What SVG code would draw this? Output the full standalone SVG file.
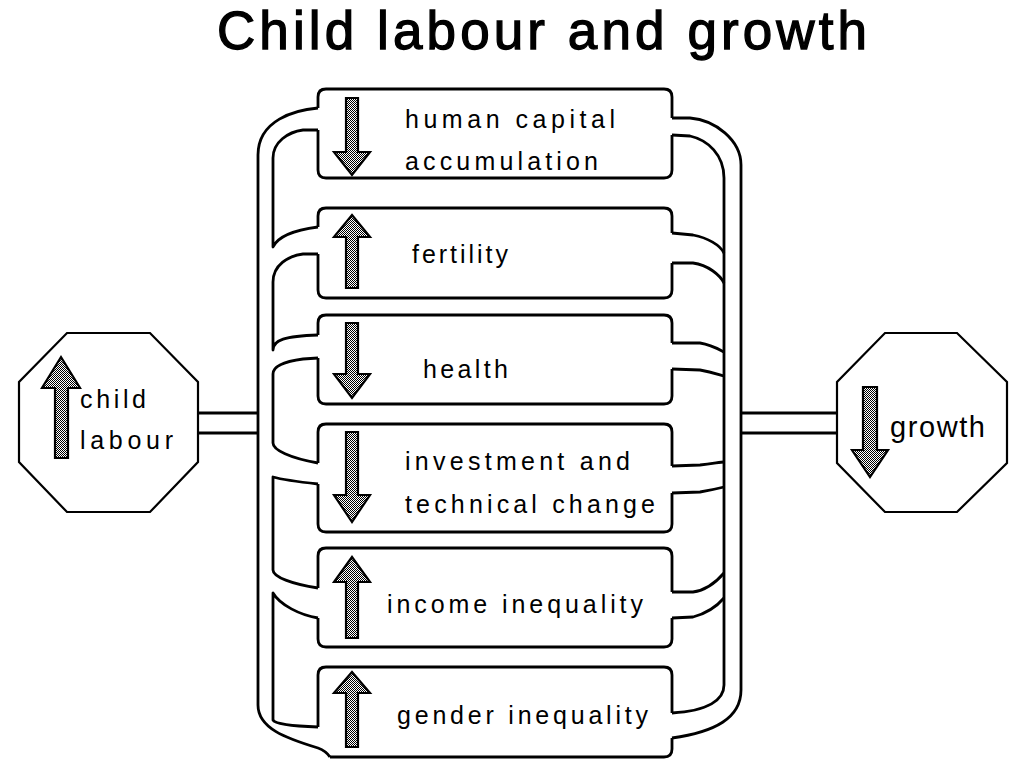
<svg xmlns="http://www.w3.org/2000/svg" width="1024" height="768" viewBox="0 0 1024 768">
<defs>
<pattern id="dither" width="2" height="2" patternUnits="userSpaceOnUse">
<rect width="2" height="2" fill="#fff"/>
<rect width="1" height="1" fill="#000"/>
<rect x="1" y="1" width="1" height="1" fill="#000"/>
</pattern>
<style>
.ln{fill:none;stroke:#000;stroke-width:2.8;stroke-linejoin:round}
.oct{fill:#fff;stroke:#000;stroke-width:2.2}
.arr{fill:url(#dither);stroke:#000;stroke-width:2.2;stroke-linejoin:miter}
.t{font-family:"Liberation Sans",Arial,sans-serif;font-size:25px;fill:#000}
.title{font-family:"Liberation Sans",Arial,sans-serif;font-size:53px;fill:#000;stroke:#000;stroke-width:1.3}
</style>
</defs>
<rect width="1024" height="768" fill="#fff"/>
<text class="title" x="217" y="49" textLength="650" lengthAdjust="spacing">Child labour and growth</text>

<g id="connectors">
<line class="ln" x1="198" y1="413" x2="258" y2="413"/>
<line class="ln" x1="198" y1="433" x2="258" y2="433"/>
<line class="ln" x1="741" y1="413" x2="837" y2="413"/>
<line class="ln" x1="741" y1="433" x2="837" y2="433"/>
<path class="ln" d="M318,108 C295,110 258,120 258,155 V705 C258,728 285,738 318,748 Q326,751 330,757"/>
<path class="ln" d="M318,130 L303,130 C288,132 273,142 273,158 V247 C278,236 295,230 318,227"/>
<path class="ln" d="M318,254 L303,254 C288,256 273,265 273,282 V350 C273,340 285,336 318,335"/>
<path class="ln" d="M318,358 L303,359 C288,361 273,365 273,374 V443 C273,450 290,458 318,463"/>
<path class="ln" d="M318,484 C300,482 280,479 273,477 V570 C273,577 292,584 318,588"/>
<path class="ln" d="M318,618 C300,615 280,605 273,593 V720 C275,724 290,726 318,727"/>
<path class="ln" d="M672,118 L690,118 C715,120 741,140 741,165 V690 C741,718 715,732 672,738"/>
<path class="ln" d="M672,135 L690,136 C708,140 724,155 724,178 V685 C724,700 708,711 672,713"/>
<path class="ln" d="M672,233 L693,235 C708,238 720,245 724,253"/>
<path class="ln" d="M672,263 L693,263 C708,265 720,275 724,283"/>
<path class="ln" d="M672,343 L700,343 C712,345 720,350 724,352"/>
<path class="ln" d="M672,369 L700,370 C712,372 720,375 724,376"/>
<path class="ln" d="M672,466 L700,465 C712,464 720,462 724,462"/>
<path class="ln" d="M672,493 L700,492 C712,490 720,488 724,487"/>
<path class="ln" d="M672,592 L693,592 C708,590 718,580 724,573"/>
<path class="ln" d="M672,618 L693,617 C708,613 718,605 724,598"/>
</g>

<g id="child-labour">
<polygon class="oct" points="67,333 150,333 198,382 198,462 150,512 67,512 19,462 19,382"/>
<polygon class="arr" points="61,357 80,388 68,388 68,458 55,458 55,388 42,388"/>
<text class="t" x="80" y="408" textLength="66" lengthAdjust="spacing">child</text>
<text class="t" x="80" y="449" textLength="93" lengthAdjust="spacing">labour</text>
</g>

<g id="growth">
<polygon class="oct" points="885,333 957,333 1007,382 1007,463 957,512 885,512 837,463 837,382"/>
<polygon class="arr" points="863,387 877,387 877,450 888,450 870,477 852,450 863,450"/>
<text class="t" x="890" y="437" textLength="95" lengthAdjust="spacing" style="font-size:29px">growth</text>
</g>

<g id="human-capital">
<path class="ln" d="M318,108 V97 Q318,89 326,89 H664 Q672,89 672,97 V118"/>
<path class="ln" d="M672,135 V170 Q672,178 664,178 H326 Q318,178 318,170 V130"/>
<polygon class="arr" points="346,98 358,98 358,152 370,152 352,175 334,152 346,152"/>
<text class="t" x="405" y="128" textLength="210" lengthAdjust="spacing">human capital</text>
<text class="t" x="405" y="170" textLength="193" lengthAdjust="spacing">accumulation</text>
</g>

<g id="fertility">
<path class="ln" d="M318,227 V216 Q318,208 326,208 H664 Q672,208 672,216 V233"/>
<path class="ln" d="M672,263 V290 Q672,298 664,298 H326 Q318,298 318,290 V254"/>
<polygon class="arr" points="352,215 370,237 358,237 358,288 346,288 346,237 334,237"/>
<text class="t" x="412" y="263" textLength="96" lengthAdjust="spacing">fertility</text>
</g>

<g id="health">
<path class="ln" d="M318,335 V323 Q318,315 326,315 H664 Q672,315 672,323 V343"/>
<path class="ln" d="M672,369 V396 Q672,404 664,404 H326 Q318,404 318,396 V358"/>
<polygon class="arr" points="346,323 358,323 358,374 370,374 352,398 334,374 346,374"/>
<text class="t" x="423" y="378" textLength="85" lengthAdjust="spacing">health</text>
</g>

<g id="investment">
<path class="ln" d="M318,463 V432 Q318,424 326,424 H664 Q672,424 672,432 V466"/>
<path class="ln" d="M672,493 V524 Q672,532 664,532 H326 Q318,532 318,524 V484"/>
<polygon class="arr" points="346,432 358,432 358,495 370,495 352,522 334,495 346,495"/>
<text class="t" x="405" y="470" textLength="225" lengthAdjust="spacing">investment and</text>
<text class="t" x="405" y="513" textLength="250" lengthAdjust="spacing">technical change</text>
</g>

<g id="income-inequality">
<path class="ln" d="M318,588 V556 Q318,548 326,548 H664 Q672,548 672,556 V592"/>
<path class="ln" d="M672,618 V639 Q672,647 664,647 H326 Q318,647 318,639 V618"/>
<polygon class="arr" points="352,557 370,582 358,582 358,638 346,638 346,582 334,582"/>
<text class="t" x="387" y="613" textLength="256" lengthAdjust="spacing">income inequality</text>
</g>

<g id="gender-inequality">
<path class="ln" d="M318,727 V675 Q318,667 326,667 H664 Q672,667 672,675 V713"/>
<path class="ln" d="M672,738 V749 Q672,757 664,757 H330"/>
<polygon class="arr" points="352,672 370,693 358,693 358,747 346,747 346,693 334,693"/>
<text class="t" x="397" y="724" textLength="251" lengthAdjust="spacing">gender inequality</text>
</g>
</svg>
